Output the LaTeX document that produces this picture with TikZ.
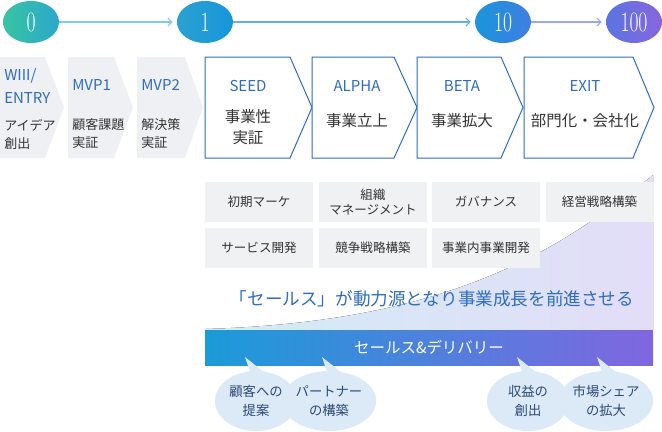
\documentclass[tikz,border=0pt]{standalone}
\usepackage{fontspec}
\newfontfamily\jpfont{Noto Sans CJK JP}
\usetikzlibrary{arrows.meta, shapes.geometric}

\definecolor{stageblue}{HTML}{2E6DBE}
\definecolor{chevgray}{HTML}{EEF0F3}
\definecolor{boxgray}{HTML}{F0F1F3}
\definecolor{bubblefill}{HTML}{DCE9F7}
\definecolor{bubbletext}{HTML}{2B4A78}
\definecolor{darktext}{HTML}{333333}
\definecolor{wedgeleft}{HTML}{D2ECF7}
\definecolor{wedgeright}{HTML}{E3DDF7}
\definecolor{barleft}{HTML}{1B9BD8}
\definecolor{barright}{HTML}{8066E0}
\definecolor{zeroleft}{HTML}{38C5A1}
\definecolor{zeroright}{HTML}{2BA7CC}
\definecolor{oneleft}{HTML}{2BA1D0}
\definecolor{oneright}{HTML}{1696DB}
\definecolor{tenleft}{HTML}{1A95DB}
\definecolor{tenright}{HTML}{3F7EE2}
\definecolor{hundleft}{HTML}{5A74E1}
\definecolor{hundright}{HTML}{8866DF}
\definecolor{arrowone}{HTML}{7FCBE3}
\definecolor{arrowtwo}{HTML}{5DB3E3}
\definecolor{arrowthree}{HTML}{9AA6F0}

\newcommand{\numtxt}[1]{\scalebox{.7}[1]{#1}}

\tikzset{
    numnode/.style = {ellipse, minimum width=42pt, minimum height=31.5pt,
        inner sep=0pt, text=white, font=\fontsize{21}{21}\selectfont},
    flowarrow/.style = {->, line width=0.8pt, shorten >=3pt},
    graychev/.style = {fill=chevgray, draw=none},
    stagechev/.style = {draw=stageblue, line width=0.75pt, fill=white},
    stagetitle/.style = {text=stageblue, inner sep=0pt,
        font=\jpfont\fontsize{11.25}{17.25}\selectfont},
    stagetext/.style = {text=darktext, align=center, inner sep=0pt,
        font=\jpfont\fontsize{11.6}{15.75}\selectfont},
    steptext/.style = {text=darktext, align=left, anchor=west, inner sep=0pt,
        font=\jpfont\fontsize{9.75}{13.5}\selectfont},
    graybox/.style = {fill=boxgray, minimum width=81pt, minimum height=30pt,
        inner sep=0pt, text=darktext, align=center,
        font=\jpfont\fontsize{9.4}{11.25}\selectfont},
    bubble/.style = {ellipse, fill=bubblefill, minimum width=61.5pt,
        minimum height=45pt, inner sep=0pt, text=bubbletext, align=center,
        font=\jpfont\fontsize{10}{14.25}\selectfont}
}

\begin{document}
\begin{tikzpicture}[%
        x = 0.75pt,
        y = -0.75pt,
        > = {Straight Barb[length=3pt, width=6pt]}
    ]

        \useasboundingbox (0,0) rectangle (662,432);

        % The four milestones along the top.
        \node[numnode, left color=zeroleft, right color=zeroright] (n0) at (31,22) {\numtxt{0}};
        \node[numnode, left color=oneleft, right color=oneright] (n1) at (205,22) {\numtxt{1}};
        \node[numnode, left color=tenleft, right color=tenright] (n10) at (503,22) {\numtxt{10}};
        \node[numnode, left color=hundleft, right color=hundright] (n100) at (634,22) {\numtxt{100}};

        \draw[flowarrow, arrowone] (n0) -- (n1);
        \draw[flowarrow, arrowtwo] (n1) -- (n10);
        \draw[flowarrow, arrowthree] (n10) -- (n100);

        % Early steps, grey chevrons.
        \foreach \xa/\xb/\xc in {0/45/64, 68/114/133, 137/185/203}{
            \draw[graychev] (\xa,57) -- (\xb,57) -- (\xc,107.5) -- (\xb,158) -- (\xa,158) -- cycle;
        }

        \node[stagetitle, align=left, anchor=west] (wiii) at (4,86.5) {WIII/\\ENTRY};
        \node[steptext] (idea) at (4,134) {アイデア\\創出};
        \node[stagetitle, anchor=west] (mvp1) at (72,85) {MVP1};
        \node[steptext] (issue) at (72,134) {顧客課題\\実証};
        \node[stagetitle, anchor=west] (mvp2) at (141,85) {MVP2};
        \node[steptext] (solve) at (141,134) {解決策\\実証};

        % Main stages, blue outlined chevrons.
        \foreach \xa/\xb/\xc in {205/290/312, 312/394/417, 417/501/523, 524/633/654}{
            \draw[stagechev] (\xa,57) -- (\xb,57) -- (\xc,107.5) -- (\xb,158) -- (\xa,158) -- cycle;
        }

        \node[stagetitle] (seed) at (248,86) {SEED};
        \node[stagetext] (seedtxt) at (248,127.5) {事業性\\実証};
        \node[stagetitle] (alpha) at (357,86) {ALPHA};
        \node[stagetext] (alphatxt) at (357,121) {事業立上};
        \node[stagetitle] (beta) at (462,86) {BETA};
        \node[stagetext] (betatxt) at (462,121) {事業拡大};
        \node[stagetitle] (exit) at (585,86) {EXIT};
        \node[stagetext] (exittxt) at (585,121) {部門化・会社化};

        % Rising wedge behind the task boxes.
        \fill[left color=wedgeleft, right color=wedgeright]
            (205,329) .. controls (450,322) and (560,250) .. (653,175) -- (653,330) -- (205,330) -- cycle;

        % Task boxes.
        \node[graybox] (mkt) at (259,202) {初期マーケ};
        \node[graybox] (org) at (373,202) {組織\\マネージメント};
        \node[graybox] (gov) at (486,202) {ガバナンス};
        \node[graybox] (strat) at (599.5,202) {経営戦略構築};
        \node[graybox] (svc) at (259,247.5) {サービス開発};
        \node[graybox] (comp) at (373,247.5) {競争戦略構築};
        \node[graybox] (intra) at (486,247.5) {事業内事業開発};

        \node[text=stageblue, font=\jpfont\fontsize{13.2}{13.2}\selectfont] (drive)
            at (432,299) {「セールス」が動力源となり事業成長を前進させる};

        % Sales and delivery bar.
        \node[left color=barleft, right color=barright, minimum width=336pt,
            minimum height=26.25pt, inner sep=0pt, text=white,
            font=\jpfont\fontsize{11.6}{11.6}\selectfont] (bar) at (429,347.5) {セールス\&デリバリー};

        % Speech bubbles hanging under the bar.
        \node[bubble] (b1) at (256,401) {顧客への\\提案};
        \node[bubble] (b2) at (329,401) {パートナー\\の構築};
        \node[bubble] (b3) at (528,401) {収益の\\創出};
        \node[bubble] (b4) at (606,401) {市場シェア\\の拡大};

        \foreach \ax in {245, 322, 517, 597}{
            \fill[bubblefill] (\ax,357) -- (\ax+6,375) -- (\ax+20,373) -- cycle;
        }
    \end{tikzpicture}
\end{document}
